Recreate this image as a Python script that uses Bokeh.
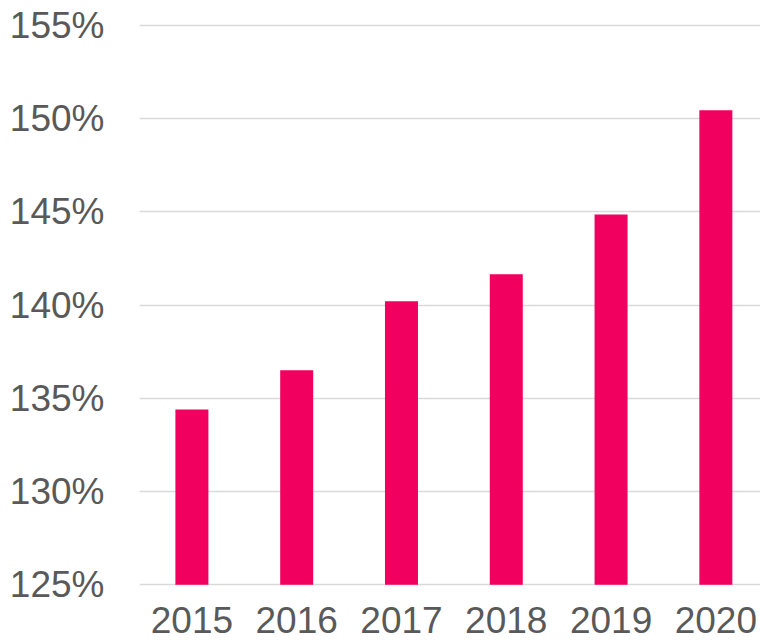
from bokeh.plotting import figure
from bokeh.models import Range1d, FixedTicker, NumeralTickFormatter, ColumnDataSource
from bokeh.embed import file_html
from bokeh.resources import INLINE

years = ["2015", "2016", "2017", "2018", "2019", "2020"]
ratios = [1.344, 1.365, 1.402, 1.4165, 1.4486, 1.5045]
y_ticks = [1.25, 1.30, 1.35, 1.40, 1.45, 1.50, 1.55]

x_pos = [i + 0.5 for i in range(len(years))]
src = ColumnDataSource(dict(x=x_pos, top=ratios))

p = figure(width=760, height=643, output_backend="svg", toolbar_location=None,
           x_range=Range1d(0, 5.926), y_range=Range1d(1.249, 1.551),
           min_border_left=139, min_border_right=0, min_border_top=23, min_border_bottom=57)
p.outline_line_color = None
p.background_fill_color = "white"
p.border_fill_color = "white"

p.vbar(x="x", top="top", bottom=1.25, width=0.315, source=src,
       fill_color="#F20060", line_color=None)

FONT = "Liberation Sans"
GREY = "#595959"

p.yaxis.ticker = FixedTicker(ticks=y_ticks)
p.yaxis.formatter = NumeralTickFormatter(format="0%")
p.xaxis.ticker = FixedTicker(ticks=x_pos)
p.xaxis.major_label_overrides = {x: y for x, y in zip(x_pos, years)}

for ax in (p.xaxis, p.yaxis):
    ax.axis_line_color = None
    ax.major_tick_line_color = None
    ax.minor_tick_line_color = None
    ax.major_tick_in = 0
    ax.major_tick_out = 0
    ax.major_label_text_font = FONT
    ax.major_label_text_font_size = "37px"
    ax.major_label_text_color = GREY
p.yaxis.major_label_standoff = 35
p.xaxis.major_label_standoff = 20

p.xgrid.grid_line_color = None
p.ygrid.grid_line_color = "#D9D9D9"
p.ygrid.grid_line_width = 1.5

open("out.html", "w").write(file_html(p, INLINE))
